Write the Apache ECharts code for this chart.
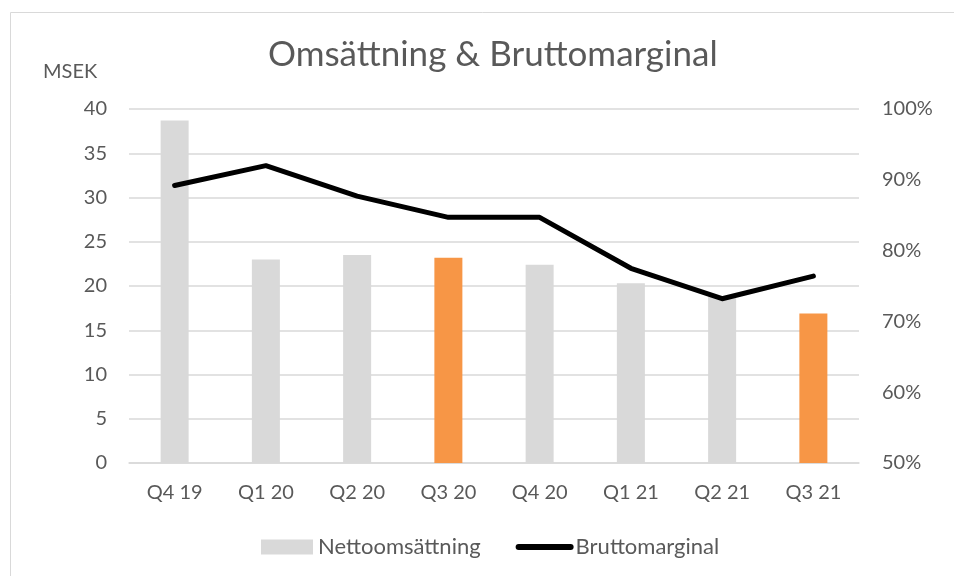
<!DOCTYPE html>
<html>
<head>
<meta charset="utf-8">
<script src="https://cdn.jsdelivr.net/npm/echarts@6/dist/echarts.min.js"></script>
<style>html,body{margin:0;padding:0;background:#fff}#c{width:954px;height:576px}</style>
</head>
<body>
<div id="c"></div>
<script>
const categories = ['Q4 19','Q1 20','Q2 20','Q3 20','Q4 20','Q1 21','Q2 21','Q3 21'];
const nettoomsattning = [38.7, 23.0, 23.5, 23.2, 22.4, 20.3, 18.8, 16.9];
const highlighted = [false, false, false, true, false, false, false, true];
const bruttomarginal = [89.2, 92.0, 87.7, 84.7, 84.7, 77.5, 73.2, 76.4];
const leftTicks = [0, 40, 5];
const rightTicks = [50, 100, 10];

const FONT = 'Lato';
const TXT = '#595959';
const chart = echarts.init(document.getElementById('c'));
chart.setOption({
  animation: false,
  textStyle: {fontFamily: FONT, color: TXT},
  title: {
    text: 'Omsättning & Bruttomarginal',
    left: 263, top: 32,
    textStyle: {fontFamily: FONT, fontSize: 35, fontWeight: 'normal', color: TXT}
  },
  graphic: [
    {type: 'rect', left: 8, top: 10, shape: {width: 960, height: 580}, style: {fill: 'none', stroke: '#d9d9d9', lineWidth: 1}, z: -1},
    {type: 'text', left: 43, top: 62, style: {text: 'MSEK', font: '20px ' + FONT, fill: TXT}}
  ],
  legend: {
    bottom: 13, left: 256,
    itemWidth: 52, itemHeight: 15, itemGap: 35,
    textStyle: {fontFamily: FONT, fontSize: 22, color: TXT},
    data: [
      {name: 'Nettoomsättning', icon: 'rect', itemStyle: {color: '#d9d9d9'}},
      {name: 'Bruttomarginal', itemStyle: {opacity: 0}, lineStyle: {color: '#000', width: 6, cap: 'round'}}
    ]
  },
  grid: {left: 129, right: 95, top: 109, bottom: 113, containLabel: false},
  xAxis: {
    type: 'category', data: categories,
    axisLine: {lineStyle: {color: '#d9d9d9', width: 1.5}},
    axisTick: {show: false},
    axisLabel: {fontFamily: FONT, fontSize: 20, color: TXT, margin: 20}
  },
  yAxis: [
    {type: 'value', min: leftTicks[0], max: leftTicks[1], interval: leftTicks[2],
     axisLine: {show: false}, axisTick: {show: false},
     splitLine: {lineStyle: {color: '#d9d9d9', width: 1.5}},
     axisLabel: {fontFamily: FONT, fontSize: 20, color: TXT, margin: 22}},
    {type: 'value', min: rightTicks[0], max: rightTicks[1], interval: rightTicks[2],
     axisLine: {show: false}, axisTick: {show: false}, splitLine: {show: false},
     axisLabel: {fontFamily: FONT, fontSize: 20, color: TXT, margin: 23, formatter: '{value}%'}}
  ],
  series: [
    {name: 'Nettoomsättning', type: 'bar', barWidth: 28, yAxisIndex: 0,
     itemStyle: {color: '#d9d9d9'},
     data: nettoomsattning.map((v, i) => ({value: v, itemStyle: {color: highlighted[i] ? '#f79646' : '#d9d9d9'}}))},
    {name: 'Bruttomarginal', type: 'line', yAxisIndex: 1, symbol: 'none',
     lineStyle: {color: '#000', width: 5, cap: 'round', join: 'round'},
     itemStyle: {color: '#000'},
     data: bruttomarginal}
  ]
});
</script>
</body>
</html>
